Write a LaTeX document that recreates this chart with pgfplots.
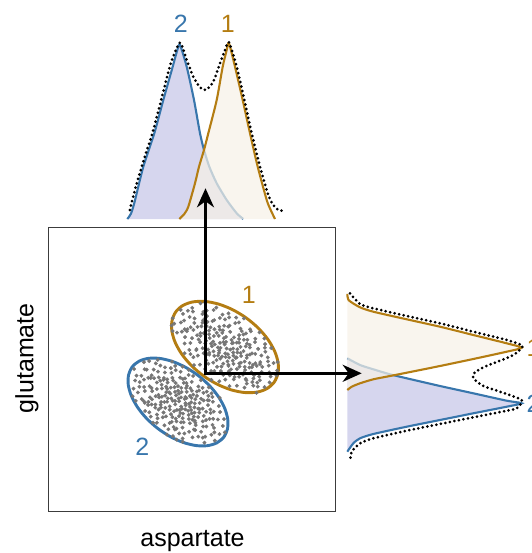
\documentclass[border=0pt]{standalone}
\usepackage{fontspec}
\setmainfont{Liberation Sans}
\usepackage{pgfplots}
\usepackage{pgfplotstable}
\pgfplotsset{compat=1.18}
\usetikzlibrary{arrows.meta}
\definecolor{cblue}{RGB}{56,118,172}
\definecolor{cgold}{RGB}{180,125,18}
\definecolor{clav}{RGB}{214,214,238}
\definecolor{ccream}{RGB}{246,241,231}
\definecolor{cdot}{RGB}{118,118,118}
\definecolor{cbox}{RGB}{60,60,60}

\pgfplotstableread{
u v
0.12 -0.85
-1.34 0.47
0.78 1.12
-0.23 -0.31
1.65 -0.42
-0.91 -1.27
0.05 0.66
2.10 0.35
-1.78 -0.62
0.44 -1.53
-0.57 1.84
1.21 0.09
-0.14 -2.05
0.93 -0.77
-2.21 0.18
0.31 0.24
-0.68 0.92
1.47 1.36
-1.05 -0.08
0.62 -0.19
-0.39 -0.96
1.88 -1.05
-1.52 1.21
0.18 1.57
-0.82 -1.85
1.02 0.58
-0.07 0.13
2.35 -0.21
-1.19 0.71
0.71 -1.22
-0.48 0.38
1.33 -1.71
-1.96 -1.12
0.26 -0.54
-0.33 2.12
0.85 0.97
-1.63 -0.27
1.59 0.44
-0.02 -1.36
0.49 1.93
-2.45 -0.48
1.14 -0.33
-0.75 -0.59
0.37 0.81
-1.27 1.63
2.02 1.05
-0.61 -2.28
0.09 -0.02
1.76 -0.88
-1.41 0.03
0.67 0.29
-0.19 1.07
1.28 1.78
-0.96 0.52
0.54 -0.87
-2.04 0.89
0.22 -1.79
-0.53 -0.17
1.07 -1.48
-1.13 -1.61
0.81 2.22
-0.28 -0.71
1.92 0.71
-1.71 0.39
0.41 0.02
-0.87 1.43
2.29 -0.67
-0.44 -1.14
0.15 0.49
1.39 -0.06
-1.32 -0.83
0.58 1.31
-0.11 -0.44
1.69 1.14
-2.31 -0.94
0.96 -0.52
-0.64 0.17
0.33 -2.41
-1.55 0.95
1.18 0.83
-0.21 0.61
0.74 -1.02
-1.09 -0.36
2.16 -1.32
-0.36 1.39
0.03 -1.09
1.52 0.21
-1.87 1.48
0.47 0.37
-0.72 -0.97
1.25 -0.71
-0.05 2.38
0.89 1.49
-1.44 -1.43
0.64 -0.12
-0.93 0.28
1.83 0.06
-0.16 -1.62
0.28 1.02
-2.12 0.55
1.09 -2.03
-0.59 0.77
0.13 -0.66
1.61 -1.19
-1.24 1.88
0.52 0.63
-0.41 -0.26
2.41 0.48
-0.99 -1.79
0.76 0.14
-1.69 -0.51
0.19 1.24
-0.31 -1.51
1.43 0.99
-0.84 0.08
0.61 -1.65
-1.38 0.63
1.97 -0.47
-0.09 0.33
0.87 -0.35
-2.38 0.31
0.35 -1.25
-0.66 1.56
1.16 1.23
-1.16 -0.21
0.07 0.91
1.71 -0.63
-0.51 -0.82
0.42 2.01
-1.82 -0.87
1.31 -0.18
-0.25 0.45
0.69 -0.61
-1.01 1.08
2.05 -0.92
-0.42 -2.01
0.24 0.07
1.55 0.57
-1.58 -1.05
0.82 1.69
-0.13 -0.23
1.04 -1.31
-0.78 0.58
-2.01 -0.15
0.39 -0.43
1.36 1.57
-0.54 1.17
0.11 -1.92
-1.29 0.22
0.94 0.42
-0.35 -1.07
1.79 0.92
-1.07 -0.64
0.57 -0.93
-0.69 2.04
1.23 -0.49
-1.49 1.32
0.29 0.72
-0.03 -0.77
2.24 0.17
-0.89 -1.33
0.66 1.08
-1.93 0.71
1.46 -0.97
-0.23 1.76
0.16 -0.35
-1.21 -1.98
0.99 0.26
-0.47 0.86
1.63 -1.51
-1.61 0.12
0.49 -0.15
-0.79 -0.41
1.12 2.07
-0.17 0.22
0.79 -1.83
-2.27 -0.73
1.41 0.31
-0.57 -1.22
0.32 1.45
-1.35 1.02
1.86 -0.29
-0.06 -0.58
0.72 0.51
-1.12 0.44
0.21 -1.44
-0.73 -0.11
1.27 -0.84
-1.74 1.71
0.55 0.19
-0.38 1.28
2.13 1.27
-0.95 -0.73
0.08 1.66
1.49 -0.37
-1.47 -0.31
0.63 -2.17
-0.27 0.03
1.06 0.73
-2.15 -1.21
0.43 -0.71
-0.62 0.47
1.73 0.38
-1.26 -1.17
0.91 -0.25
-0.12 1.95
0.34 -1.01
-1.04 0.96
1.58 1.81
-0.46 -0.48
0.17 0.56
-1.66 -0.65
1.19 -1.11
-0.86 1.73
0.59 -0.46
-0.01 -2.27
1.94 -0.71
-1.36 0.84
0.46 1.17
-0.71 -1.58
1.37 0.12
-1.91 0.27
0.27 -0.29
-0.43 0.69
0.84 -1.41
-1.22 -0.46
2.32 0.77
-0.15 -0.93
0.68 0.87
-1.57 1.12
1.01 -0.03
-0.55 -0.37
0.38 1.61
-2.07 -0.39
1.52 -1.02
}\scat

\begin{document}
\begin{tikzpicture}
\useasboundingbox (0pt,0pt) rectangle (531pt,-553pt);

% main scatter panel
\begin{axis}[at={(48.3pt,-511.3pt)}, anchor=south west, scale only axis,
  width=287pt, height=284pt, xmin=0, xmax=287, ymin=0, ymax=284,
  xtick=\empty, ytick=\empty,
  axis line style={draw=cbox, line width=1.3pt}]
\addplot[only marks, color=cdot, mark=*, mark size=1.75pt, mark options={solid, draw=none, fill=cdot}]
  table[x expr={176.7+19.70*\thisrow{u}+8.36*\thisrow{v}},
        y expr={164.3-14.05*\thisrow{u}+11.72*\thisrow{v}}] \scat;
\addplot[only marks, color=cdot, mark=*, mark size=1.75pt, mark options={solid, draw=none, fill=cdot}]
  table[x expr={129.7-18.30*\thisrow{v}+8.11*\thisrow{u}},
        y expr={109.3+14.09*\thisrow{v}+10.54*\thisrow{u}}] \scat;
\addplot[smooth, cgold, line width=2.9pt] coordinates {
(218.86,122.78) (225.95,129.17) (229.68,137.96) (229.81,148.54) (226.31,160.19)
(219.44,172.11) (209.65,183.52) (197.61,193.61) (184.15,201.70) (170.18,207.25)
(156.67,209.87) (144.51,209.38) (134.54,205.82) (127.45,199.43) (123.72,190.64)
(123.59,180.06) (127.09,168.41) (133.96,156.49) (143.75,145.08) (155.79,134.99)
(169.25,126.90) (183.22,121.35) (196.73,118.73) (208.89,119.22) (218.86,122.78)
(225.95,129.17) (229.68,137.96)};
\addplot[smooth, cblue, line width=2.9pt] coordinates {
(168.60,68.47) (175.42,74.10) (179.12,82.13) (179.45,92.01) (176.40,103.06)
(170.16,114.55) (161.16,125.67) (150.02,135.68) (137.50,143.89) (124.44,149.75)
(111.74,152.84) (100.27,152.97) (90.80,150.13) (83.98,144.50) (80.28,136.47)
(79.95,126.59) (83.00,115.54) (89.24,104.05) (98.24,92.93) (109.38,82.92)
(121.90,74.71) (134.96,68.85) (147.66,65.76) (159.13,65.63) (168.60,68.47)
(175.42,74.10) (179.12,82.13)};
\node[cgold, inner sep=0pt, font=\fontsize{25}{30}\selectfont] at (axis cs:200.4,216.2) {1};
\node[cblue, inner sep=0pt, font=\fontsize{25}{30}\selectfont] at (axis cs:94.1,64.2) {2};
\end{axis}

% top marginal
\begin{axis}[at={(48.3pt,-219pt)}, anchor=south west, scale only axis,
  width=287pt, height=219pt, xmin=0, xmax=287, ymin=0, ymax=219,
  hide axis, clip=false]
\addplot[smooth, tension=0.4, draw=cblue, line width=2.1pt, fill=clav] coordinates {
(79,0) (82.5,5) (86,16) (95,52.3) (106,85.7) (115,119) (124.4,152.3) (129,169) (131.7,174)
(138.4,152.3) (145.7,119) (151.7,85.7) (155.7,69) (161,52.3) (168.4,35.7) (178.4,19)
(188.4,5.7) (195,0)};
\addplot[smooth, tension=0.4, draw=cgold, line width=2.1pt, fill=ccream, fill opacity=0.72] coordinates {
(131,0) (136,5) (140,12.3) (146.7,35.7) (150.7,52.3) (155.7,69) (160,85.7) (168.4,119)
(174.4,152.3) (178.4,169) (180.7,175.7) (186.7,152.3) (194.4,119) (201.7,85.7)
(209.4,52.3) (218.4,19) (222.4,9) (226.7,0)};
\addplot[smooth, tension=0.4, black, line width=3pt, line cap=round, dash pattern=on 0pt off 4.6pt] coordinates {
(81.5,9) (87.5,32.3) (95.5,59) (105,89) (113.7,122.3) (122.5,155.7) (131.7,176.3)
(138.4,159) (145,142.3) (151.7,131.7) (157.7,129) (165,137.3) (171.7,155.7) (176.7,169)
(180.7,176.7) (188.4,152.3) (196,119) (203.4,85.7) (211.7,52.3) (220,24) (225,14)
(230,9) (235,8.3)};
\node[cblue, inner sep=0pt, font=\fontsize{25}{30}\selectfont] at (axis cs:132.5,194.8) {2};
\node[cgold, inner sep=0pt, font=\fontsize{25}{30}\selectfont] at (axis cs:179.4,194.8) {1};
\end{axis}

% right marginal
\begin{axis}[at={(347.3pt,-511.3pt)}, anchor=south west, scale only axis,
  width=183.7pt, height=284pt, xmin=0, xmax=183.7, ymin=0, ymax=284,
  hide axis, clip=false]
\addplot[smooth, tension=0.4, draw=cblue, line width=2.1pt, fill=clav] coordinates {
(0,153) (12.7,146.3) (26,142) (42.7,137) (59.4,133) (92.7,125.3) (126,118) (159.4,110.6)
(174.4,108) (159.4,104.6) (126,98) (92.7,91.3) (59.4,84.6) (26,77.3) (12.7,73) (6,68) (0,59.6)};
\addplot[smooth, tension=0.4, draw=cgold, line width=2.1pt, fill=ccream, fill opacity=0.72] coordinates {
(0,217.5) (1.5,211) (12.7,204) (26,199.6) (59.4,192) (92.7,184.6) (126,176.3) (159.4,168)
(174.4,163.6) (159.4,159.6) (126,152.3) (92.7,145.3) (59.4,138.6) (42.7,135.3) (26,132)
(12.7,128) (4.4,124.6) (0,121.3)};
\addplot[smooth, tension=0.4, black, line width=3pt, line cap=round, dash pattern=on 0pt off 4.6pt] coordinates {
(2.7,218) (12.7,207.3) (26,203) (59.4,195.3) (92.7,188) (126,179.6) (159.4,171.3)
(175.4,165.3) (166,156.3) (152.7,150.6) (136,144) (126.7,138) (126,133) (136,125.3)
(152.7,119.6) (174.4,111.3) (169.4,103) (159.4,100.6) (126,94) (92.7,87.3) (59.4,80.6)
(26,73) (12.7,68) (4.4,59.6) (2.7,49.6)};
\node[cgold, inner sep=0pt, anchor=west, font=\fontsize{25}{30}\selectfont] at (axis cs:179,163.6) {1};
\node[cblue, inner sep=0pt, anchor=west, font=\fontsize{25}{30}\selectfont] at (axis cs:179,107.7) {2};
\end{axis}

% arrows
\draw[line width=2.8pt, line join=miter,
  {Stealth[length=19pt, width=17pt, inset=6pt]}-{Stealth[length=19pt, width=17pt, inset=6pt]}]
  (205.5pt,-188.3pt) -- (205.5pt,-373.3pt) -- (361.7pt,-373.3pt);

% axis labels
\node[rotate=90, anchor=base, inner sep=0pt, font=\fontsize{25}{30}\selectfont] at (33.3pt,-358.3pt) {glutamate};
\node[anchor=base, inner sep=0pt, font=\fontsize{25}{30}\selectfont] at (192.5pt,-546.7pt) {aspartate};
\end{tikzpicture}
\end{document}
